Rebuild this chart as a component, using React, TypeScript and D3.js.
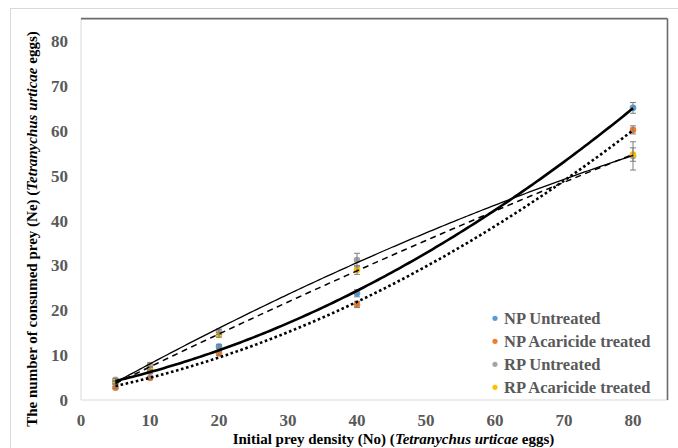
import React from "react";
import * as d3 from "d3";

// ---- data ----
const densities = [5, 10, 20, 40, 80];
const npUntreated = [3.8, 6.3, 11.9, 23.8, 65.1];
const npAcaricide = [2.75, 4.9, 10.4, 21.3, 60.2];
const rpUntreated = [4.5, 7.8, 15.2, 31.2, 54.4];
const rpAcaricide = [4.0, 7.1, 14.5, 29.0, 54.7];
const npUntreatedErr = [0.3, 0.4, 0.5, 0.8, 1.2];
const npAcaricideErr = [0.2, 0.3, 0.5, 0.7, 0.9];
const rpUntreatedErr = [0.3, 0.5, 0.6, 1.5, 3.15];
const rpAcaricideErr = [0.3, 0.4, 0.5, 1.0, 1.5];
const seriesNames = ["NP Untreated", "NP Acaricide treated", "RP Untreated", "RP Acaricide treated"];
const xTicks = [0, 10, 20, 30, 40, 50, 60, 70, 80];
const yTicks = [0, 10, 20, 30, 40, 50, 60, 70, 80];

const colors = ["#5B9BD5", "#ED7D31", "#A5A5A5", "#FFC000"];
const lineStyles = [
  { w: 2.6, dash: "" },
  { w: 2.6, dash: "2.6,2.6" },
  { w: 1.3, dash: "" },
  { w: 1.5, dash: "6,4.5" },
];

function quadFit(xs: number[], ys: number[]) {
  // least squares y = a x^2 + b x + c
  let s0 = 0, s1 = 0, s2 = 0, s3 = 0, s4 = 0, t0 = 0, t1 = 0, t2 = 0;
  xs.forEach((x, i) => {
    const y = ys[i];
    s0 += 1; s1 += x; s2 += x * x; s3 += x * x * x; s4 += x * x * x * x;
    t0 += y; t1 += x * y; t2 += x * x * y;
  });
  const M = [
    [s4, s3, s2, t2],
    [s3, s2, s1, t1],
    [s2, s1, s0, t0],
  ];
  for (let i = 0; i < 3; i++) {
    const p = M[i][i];
    for (let j = i; j < 4; j++) M[i][j] /= p;
    for (let k = 0; k < 3; k++) {
      if (k === i) continue;
      const f = M[k][i];
      for (let j = i; j < 4; j++) M[k][j] -= f * M[i][j];
    }
  }
  const [a, b, c] = [M[0][3], M[1][3], M[2][3]];
  return (x: number) => a * x * x + b * x + c;
}

export default function App() {
  const W = 678, H = 448;
  const x = d3.scaleLinear().domain([0, 85]).range([81, 667.5]);
  const y = d3.scaleLinear().domain([0, 85]).range([400, 18.6]);
  const series = [npUntreated, npAcaricide, rpUntreated, rpAcaricide];
  const errs = [npUntreatedErr, npAcaricideErr, rpUntreatedErr, rpAcaricideErr];
  const serif = "'Liberation Serif', 'Times New Roman', serif";

  const line = d3.line<number>().x((d) => x(d)).y((d) => 0).curve(d3.curveLinear);
  const sampleX = d3.range(5, 80.001, 0.5);

  const [x0, x1] = x.range();
  const [yb, yt] = y.range();

  return (
    <svg width={W} height={H} style={{ position: "absolute", left: 0, top: 0, background: "#fff" }}
      fontFamily={serif}>
      <rect x={0} y={0} width={W} height={H} fill="#fff" />
      <rect x={10.5} y={8.5} width={720} height={500} fill="none" stroke="#d9d9d9" strokeWidth={1} />
      {/* plot area borders */}
      <line x1={x0} y1={yb} x2={x1} y2={yb} stroke="#d9d9d9" strokeWidth={1} />
      <line x1={x0} y1={yb} x2={x0} y2={yt} stroke="#d9d9d9" strokeWidth={1} />
      <line x1={x0} y1={yt} x2={x1} y2={yt} stroke="#6b6b6b" strokeWidth={1.6} />
      <line x1={x1} y1={yt} x2={x1} y2={yb} stroke="#6b6b6b" strokeWidth={1.6} />

      {/* tick labels */}
      {yTicks.map((t) => (
        <text key={"y" + t} x={68} y={y(t) + 6} textAnchor="end" fontSize={17} fontWeight="bold" fill="#595959">
          {t}
        </text>
      ))}
      {xTicks.map((t) => (
        <text key={"x" + t} x={x(t)} y={426} textAnchor="middle" fontSize={17} fontWeight="bold" fill="#595959">
          {t}
        </text>
      ))}

      {/* axis titles */}
      <text x={393.5} y={444} textAnchor="middle" fontSize={15} fontWeight="bold" fill="#000">
        Initial prey density (No) (<tspan fontStyle="italic">Tetranychus urticae</tspan> eggs)
      </text>
      <text transform="translate(37,229) rotate(-90)" textAnchor="middle" fontSize={15} fontWeight="bold" fill="#000">
        The number of consumed prey (Ne) (<tspan fontStyle="italic">Tetranychus urticae</tspan> eggs)
      </text>

      {/* markers */}
      {series.map((s, si) =>
        s.map((v, i) => (
          <circle key={`m${si}-${i}`} cx={x(densities[i])} cy={y(v)} r={3.3} fill={colors[si]} />
        ))
      )}
      {/* error bars */}
      {series.map((s, si) =>
        s.map((v, i) => {
          const cx = x(densities[i]);
          const t = y(v + errs[si][i]);
          const b = y(v - errs[si][i]);
          return (
            <g key={`e${si}-${i}`} stroke="#7f7f7f" strokeWidth={1}>
              <line x1={cx} x2={cx} y1={t} y2={b} />
              <line x1={cx - 3} x2={cx + 3} y1={t} y2={t} />
              <line x1={cx - 3} x2={cx + 3} y1={b} y2={b} />
            </g>
          );
        })
      )}
      {/* trend lines */}
      {series.map((s, si) => {
        const f = quadFit(densities, s);
        const gen = d3.line<number>().x((d) => x(d)).y((d) => y(f(d))).curve(d3.curveLinear);
        return (
          <path key={`t${si}`} d={gen(sampleX) || ""} fill="none" stroke="#000"
            strokeWidth={lineStyles[si].w} strokeDasharray={lineStyles[si].dash || undefined} />
        );
      })}

      {/* legend */}
      {seriesNames.map((n, i) => (
        <g key={"l" + i}>
          <circle cx={495} cy={318.3 + i * 23} r={2.6} fill={colors[i]} />
          <text x={504} y={324 + i * 23} fontSize={16.5} fontWeight="bold" fill="#595959">
            {n}
          </text>
        </g>
      ))}
    </svg>
  );
}
